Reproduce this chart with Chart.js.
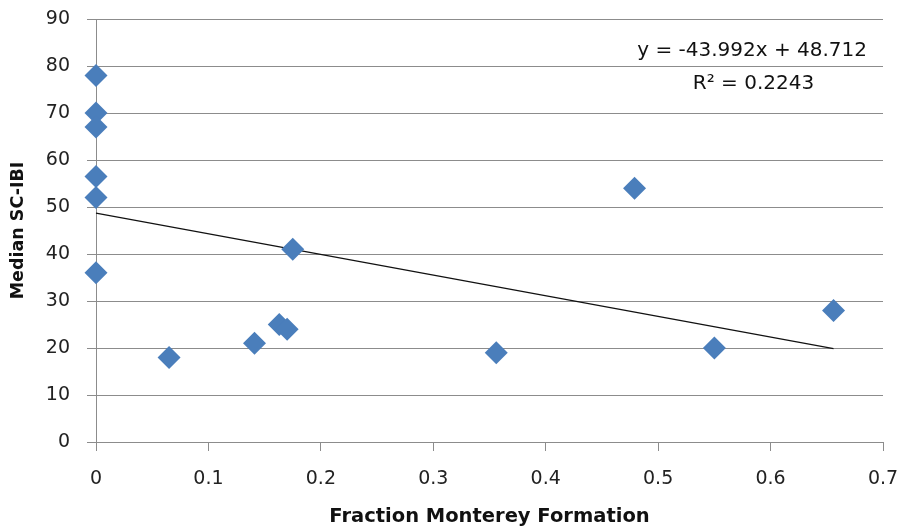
<!DOCTYPE html>
<html><head><meta charset="utf-8">
<script src="https://cdn.jsdelivr.net/npm/chart.js@4/dist/chart.umd.min.js"></script>
<style>html,body{margin:0;padding:0;background:#fff}#wrap{width:899px;height:531px;position:relative}</style>
</head><body><div id="wrap"><canvas id="c"></canvas></div>
<script>
// ---- data ----
const fraction  = [0, 0, 0, 0, 0, 0, 0.065, 0.141, 0.163, 0.170, 0.175, 0.356, 0.479, 0.550, 0.656];
const medianIBI = [78, 70, 67, 56.5, 52, 36, 18, 21, 25, 24, 41, 19, 54, 20, 28];
const trendSlope = -43.992;
const trendIntercept = 48.712;
const trendRange = [0, 0.656];
const xTickValues = [0, 0.1, 0.2, 0.3, 0.4, 0.5, 0.6, 0.7];
const yTickValues = [0, 10, 20, 30, 40, 50, 60, 70, 80, 90];
const equationLines = ['y = -43.992x + 48.712', 'R\u00B2 = 0.2243'];
const xTitle = 'Fraction Monterey Formation';
const yTitle = 'Median SC-IBI';

const points = fraction.map((x, i) => ({x: x, y: medianIBI[i]}));
const trendPoints = trendRange.map(x => ({x: x, y: trendSlope * x + trendIntercept}));

const FONT = '"DejaVu Sans", sans-serif';
const GRID = '#8c8c8c';

const eqPlugin = {
  id: 'eq',
  afterDatasetsDraw(chart) {
    const ctx = chart.ctx, a = chart.chartArea;
    ctx.save();
    ctx.fillStyle = '#111';
    ctx.font = '20px ' + FONT;
    ctx.textBaseline = 'middle';
    ctx.textAlign = 'right';
    ctx.fillText(equationLines[0], a.right - 16, 51);
    ctx.textAlign = 'center';
    ctx.fillText(equationLines[1], a.right - 129.5, 84);
    ctx.restore();
  }
};

new Chart(document.getElementById('c'), {
  type: 'scatter',
  data: {
    datasets: [
      {
        data: points,
        pointStyle: 'rectRot',
        pointRadius: 11.5,
        pointHoverRadius: 11.5,
        backgroundColor: '#4A7EBB',
        borderColor: '#4A7EBB',
        pointBorderWidth: 0,
        borderWidth: 0,
        clip: false,
        order: 1
      },
      {
        type: 'line',
        data: trendPoints,
        borderColor: '#111',
        borderWidth: 1.2,
        pointRadius: 0,
        fill: false,
        clip: false,
        order: 2
      }
    ]
  },
  plugins: [eqPlugin],
  options: {
    responsive: true,
    maintainAspectRatio: false,
    animation: false,
    events: [],
    layout: {padding: {left: 4, right: 16, top: 19, bottom: 2}},
    plugins: {legend: {display: false}, tooltip: {enabled: false}},
    scales: {
      x: {
        type: 'linear',
        min: 0, max: 0.7,
        afterBuildTicks: s => { s.ticks = xTickValues.map(v => ({value: v})); },
        afterFit: s => { s.height = 531 - 442 - 2; s.paddingLeft = 0; s.paddingRight = 0; },
        grid: {drawOnChartArea: false, drawTicks: true, tickLength: 9, color: GRID},
        border: {display: true, color: GRID, width: 1},
        ticks: {color: '#222', font: {family: FONT, size: 19}, padding: 17, maxRotation: 0,
                callback: v => String(v)},
        title: {display: true, text: xTitle, color: '#111',
                font: {family: FONT, size: 19.5, weight: 'bold'}, padding: {top: 4, bottom: 0}}
      },
      y: {
        type: 'linear',
        min: 0, max: 90,
        afterBuildTicks: s => { s.ticks = yTickValues.map(v => ({value: v})); },
        afterFit: s => { s.width = 96 - 4; s.paddingTop = 0; s.paddingBottom = 0; },
        grid: {drawOnChartArea: true, drawTicks: true, tickLength: 9, color: GRID},
        border: {display: true, color: GRID, width: 1},
        ticks: {color: '#222', font: {family: FONT, size: 19}, padding: 17,
                callback: v => String(v)},
        title: {display: true, text: yTitle, color: '#111',
                font: {family: FONT, size: 17.5, weight: 'bold'}, padding: {top: 4, bottom: 0}}
      }
    }
  }
});
</script>
</body></html>
